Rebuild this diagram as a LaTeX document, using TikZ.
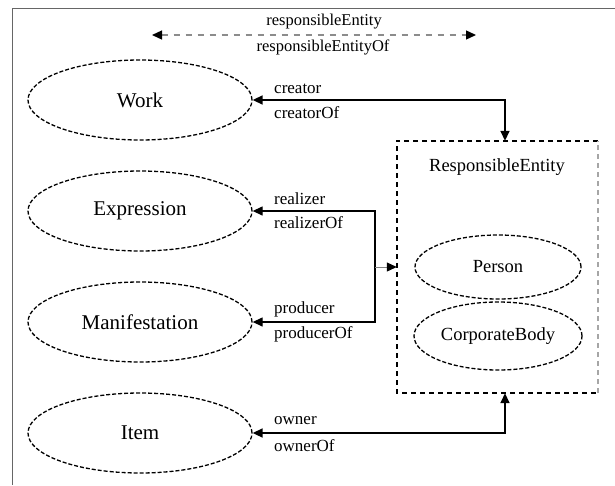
\documentclass[tikz,border=0pt]{standalone}
\usepackage{fontspec}
\setmainfont{Liberation Serif}
\usetikzlibrary{shapes.geometric,arrows.meta}
\begin{document}
\begin{tikzpicture}[x=1pt,y=-1pt,
  entity/.style={ellipse,draw,line width=1.3pt,dash pattern=on 4pt off 2pt,
    minimum width=224pt,minimum height=80pt,inner sep=0pt,
    font=\fontsize{21}{25}\selectfont},
  agent/.style={entity,minimum width=166pt,minimum height=64pt,
    font=\fontsize{18.5}{22}\selectfont},
  rel/.style={draw,line width=1.6pt,{Triangle[length=10pt,width=9pt]}-{Triangle[length=10pt,width=9pt]}},
  lbl/.style={font=\fontsize{17}{20}\selectfont,anchor=west,inner sep=0pt},
  toplbl/.style={font=\fontsize{16.5}{19}\selectfont,inner sep=0pt},
  boxline/.style={line width=1.5pt,dash pattern=on 5pt off 4pt},
  frame/.style={draw=black!60,line width=1pt}]
\useasboundingbox (0,0) rectangle (615,485);

% partial frame
\draw[frame] (615,8) -- (12,8) -- (12,485);

% FRBR group 1 entities
\node[entity] (work)  at (140,100) {Work};
\node[entity] (expr)  at (140,211) {Expression};
\node[entity] (manif) at (140,322) {Manifestation};
\node[entity] (item)  at (140,433) {Item};

% responsible entity group
\node[minimum width=201pt,minimum height=252pt,inner sep=0pt] (re) at (497.5,267) {};
\draw[boxline] (re.north east) -- (re.north west) -- (re.south west) -- (re.south east);
\draw[boxline,draw=black!35] (re.south east) -- (re.north east);
\node[font=\fontsize{18.5}{22}\selectfont] (retitle) at (497,167) {ResponsibleEntity};
\node[agent] (person) at (498,267) {Person};
\node[agent,minimum width=168pt,minimum height=68pt] (corp) at (498,336) {CorporateBody};

% generic relation (legend)
\coordinate (gl) at (152,35);
\coordinate (gr) at (476,35);
\draw[draw=black!45,line width=1.3pt,dash pattern=on 6pt off 6pt,
  {Triangle[length=10pt,width=9pt,black]}-{Triangle[length=10pt,width=9pt,black]}] (gl) -- (gr);
\node[toplbl] (rtop) at (324,22) {responsibleEntity};
\node[toplbl] (rbot) at (323,47) {responsibleEntityOf};

% creator
\coordinate (cturn) at (505,100);
\draw[rel] (work.east) -- (cturn) -- (cturn |- re.north);
\node[lbl] (cr1) at (274,89) {creator};
\node[lbl] (cr2) at (274,113) {creatorOf};

% realizer / producer
\coordinate (rtop2) at (375,211);
\coordinate (rbot2) at (375,322);
\coordinate (rmid) at (375,267);
\draw[rel,line width=1.3pt] (expr.east) -- (rtop2) -- (rbot2) -- (manif.east);
\draw[draw=black!50,line width=1pt,-{Triangle[length=10pt,width=9pt,black]}] (rmid) -- (re.west |- rmid);
\node[lbl] (re1) at (274,199) {realizer};
\node[lbl] (re2) at (274,223) {realizerOf};
\node[lbl] (pr1) at (274,309) {producer};
\node[lbl] (pr2) at (274,334) {producerOf};

% owner
\coordinate (oturn) at (505,433);
\draw[rel] (item.east) -- (oturn) -- (oturn |- re.south);
\node[lbl] (ow1) at (274,421) {owner};
\node[lbl] (ow2) at (274,446) {ownerOf};
\end{tikzpicture}
\end{document}
